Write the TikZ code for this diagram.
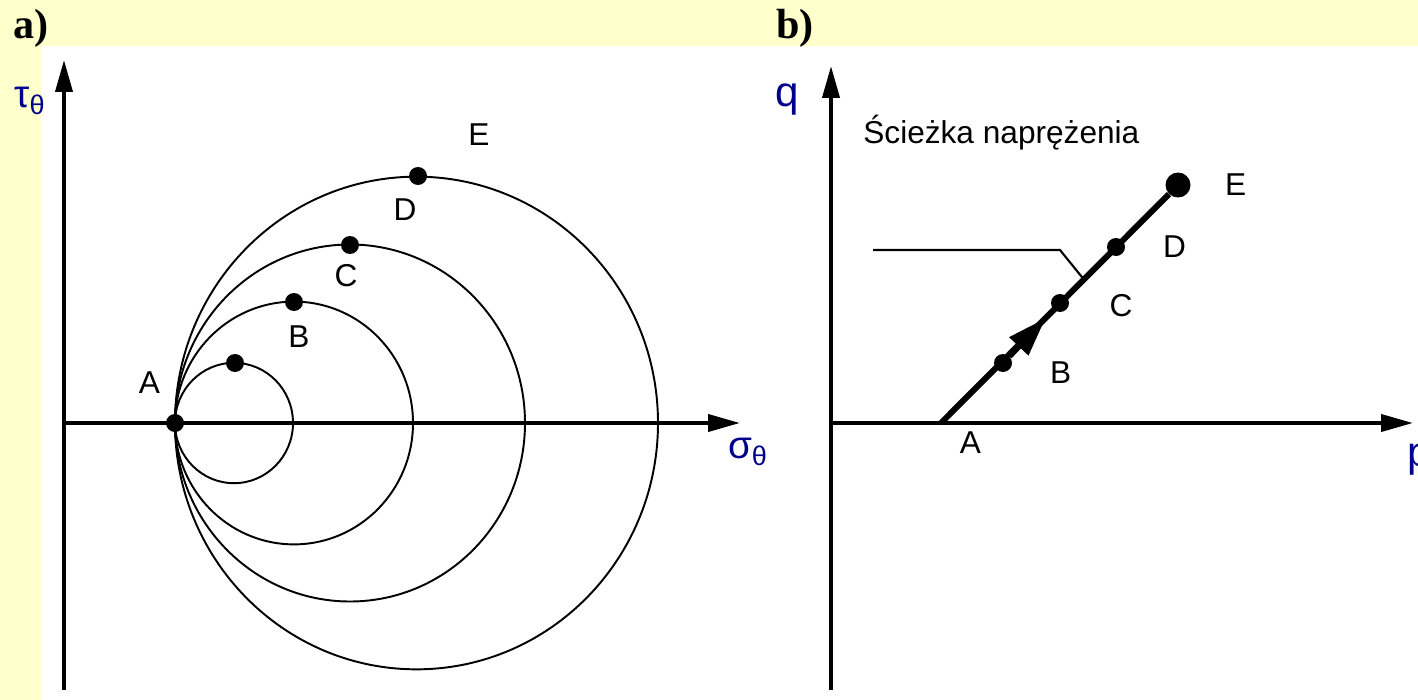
\documentclass[tikz,border=0pt]{standalone}
\usepackage{fontspec}
\setmainfont{Liberation Sans}
\newfontfamily\tagfont{Liberation Serif}
\usepackage{xcolor}
\usetikzlibrary{positioning, arrows.meta}
\definecolor{panelbg}{RGB}{255,255,204}
\definecolor{axisblue}{RGB}{0,0,140}

\begin{document}
\begin{tikzpicture}[
      x=0.02cm, y=-0.02cm,
      node distance=4mm and 4mm,
      axisline/.style={line width=2.2pt, -{Triangle[length=0.64cm, width=0.34cm]}},
      mohr/.style={line width=1.1pt},
      stress/.style={line width=3.4pt},
      midarr/.style={stress, -{Triangle[length=0.78cm, width=0.5cm]}},
      leader/.style={line width=1.2pt},
      dot/.style={circle, fill, inner sep=0pt, minimum size=0.36cm},
      bigdot/.style={dot, minimum size=0.5cm},
      lbl/.style={inner sep=0pt, font=\fontsize{18}{20}\selectfont},
      axlbl/.style={inner sep=0pt, text=axisblue, font=\fontsize{22}{24}\selectfont},
      paneltag/.style={inner sep=0pt, anchor=base west, font=\tagfont\bfseries\fontsize{24}{26}\selectfont}
    ]
    \useasboundingbox (0,0) rectangle (1418,700);
    \fill[panelbg] (0,0) rectangle (1418,46);
    \fill[panelbg] (0,46) rectangle (41,700);

    \node[paneltag] (taga) at (13,38) {a)};
    \node[paneltag] (tagb) at (776,38) {b)};

    % a) Mohr circles
    \coordinate (ya0) at (64,690);
    \coordinate (ya) at (64,60);
    \coordinate (oa) at (64,423);
    \coordinate (xa) at (740,423);
    \draw[axisline] (ya0) -- (ya);
    \draw[axisline] (oa) -- (xa);
    \node[axlbl] (tau) at (30,101) {τ\textsubscript{θ}};
    \node[axlbl] (sigma) at (748,452) {σ\textsubscript{θ}};

    \foreach \r in {59,119,175,241.5}
      \draw[mohr] (175+\r,423) ellipse[x radius=\r, y radius=1.02*\r];

    \node[dot] (mA) at (175,423) {};
    \node[dot] (m1) at (235,363) {};
    \node[dot] (m2) at (294,302) {};
    \node[dot] (m3) at (350,245) {};
    \node[dot] (m4) at (418,176) {};

    \node[lbl, above left=0.45cm and 0.16cm of mA] (lA) {A};
    \node[lbl, below=0.29cm of m2, xshift=0.1cm] (lB) {B};
    \node[lbl, below=0.19cm of m3, xshift=-0.08cm] (lC) {C};
    \node[lbl, below=0.27cm of m4, xshift=-0.26cm] (lD) {D};
    \node[lbl, above=0.41cm of m4, xshift=1.22cm] (lE) {E};

    % b) stress path
    \coordinate (yb0) at (831,690);
    \coordinate (yb) at (831,66);
    \coordinate (ob) at (831,423);
    \coordinate (xb) at (1413,423);
    \draw[axisline] (yb0) -- (yb);
    \draw[axisline] (ob) -- (xb);
    \node[axlbl, font=\fontsize{24}{26}\selectfont] (q) at (787,100) {q};
    \node[axlbl, font=\fontsize{24}{26}\selectfont, anchor=west] (p) at (1407,460) {p};

    \coordinate (bA) at (941,423);
    \node[dot] (bB) at (1003,363) {};
    \node[dot] (bC) at (1060,303) {};
    \node[dot] (bD) at (1116,247) {};
    \node[bigdot] (bE) at (1178,185) {};
    \draw[stress] (bA) -- (bE);
    \path (bB) -- (bC) coordinate[pos=0.82] (tipmid);
    \draw[midarr] (bB) -- (tipmid);

    \node[lbl, below right=0.17cm and 0.37cm of bA] (pA) {A};
    \node[lbl, right=0.75cm of bB, yshift=-0.2cm] (pB) {B};
    \node[lbl, right=0.8cm of bC, yshift=-0.06cm] (pC) {C};
    \node[lbl, right=0.75cm of bD] (pD) {D};
    \node[lbl, right=0.68cm of bE] (pE) {E};

    \node[lbl, anchor=base west] (title) at (863,143) {Ścieżka naprężenia};
    \coordinate (lead0) at (873,250);
    \coordinate (leadk) at (1060,250);
    \path (bC) -- (bD) coordinate[pos=0.4] (leadend);
    \draw[leader] (lead0) -- (leadk) -- (leadend);
  \end{tikzpicture}
\end{document}
